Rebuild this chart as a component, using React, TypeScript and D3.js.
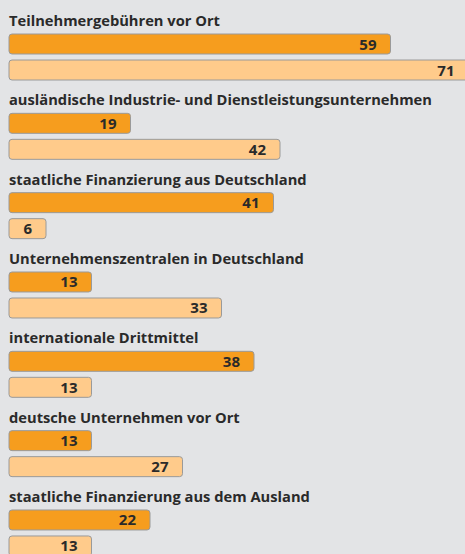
import React from "react";
import * as d3 from "d3";

const categories = [
  "Teilnehmergebühren vor Ort",
  "ausländische Industrie- und Dienstleistungsunternehmen",
  "staatliche Finanzierung aus Deutschland",
  "Unternehmenszentralen in Deutschland",
  "internationale Drittmittel",
  "deutsche Unternehmen vor Ort",
  "staatliche Finanzierung aus dem Ausland",
];
const seriesA = [59, 19, 41, 13, 38, 13, 22];
const seriesB = [71, 42, 6, 33, 13, 27, 13];

const W = 465;
const H = 554;
const FONT = "'Open Sans', sans-serif";

export default function App() {
  const x = d3.scaleLinear().domain([0, 71]).range([0, 461.5]);
  const y = d3.scaleLinear().domain([0, 7]).range([34, 34 + 7 * 79.33]);
  const barH = 20;
  const rows = categories.map((c, i) => ({ c, a: seriesA[i], b: seriesB[i], top: y(i) }));
  const colors = ["#f69d1e", "#ffcb8b"];
  return (
    <div style={{ position: "fixed", left: 0, top: 0, width: W, height: H, overflow: "hidden" }}>
      <svg width={W} height={H} style={{ display: "block" }}>
        <rect x={0} y={0} width={W} height={H} fill="#e3e4e6" />
        {rows.map((r, i) => (
          <g key={i}>
            <text x={9} y={r.top - 8} fontFamily={FONT} fontWeight={700} fontSize={14.7} fill="#2a2a2a">
              {r.c}
            </text>
            {[r.a, r.b].map((v, j) => {
              const w = x(v) - 2;
              const ty = r.top + j * 26;
              return (
                <g key={j}>
                  <rect x={9} y={ty} width={w} height={barH} rx={3} ry={3} fill={colors[j]} stroke="#9a9a9a" strokeWidth={1} />
                  <text x={9 + w - 14} y={ty + 15.5} textAnchor="end" fontFamily={FONT} fontWeight={700} fontSize={15} fill="#2a2a2a">
                    {v}
                  </text>
                </g>
              );
            })}
          </g>
        ))}
      </svg>
    </div>
  );
}
